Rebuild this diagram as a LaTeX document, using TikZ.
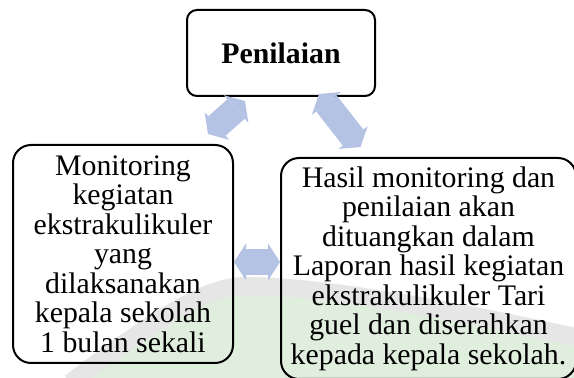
\documentclass[tikz,border=0pt]{standalone}
\usepackage{fontspec}
\setmainfont{Liberation Serif}
\usetikzlibrary{calc}
\usetikzlibrary{arrows.meta}

\definecolor{arrowblue}{RGB}{180,194,228}
\definecolor{markgray}{RGB}{230,230,230}
\definecolor{markgreen}{RGB}{224,238,222}

\begin{document}
\begin{tikzpicture}[x=1pt,y=1pt,
  box/.style={draw=black, line width=2pt, rounded corners=18pt, align=center, inner sep=0pt, font=\fontsize{29.8}{29.5}\selectfont},
  twoway/.style={arrowblue, line width=26pt, {Triangle[width=37pt,length=12pt,line width=0pt]}-{Triangle[width=37pt,length=12pt,line width=0pt]}}]
\clip (0,0) rectangle (574,378);
\fill[white] (0,0) rectangle (574,378);
\fill[markgreen] (70,-5) .. controls (150,55) and (205,92) .. (245,92) .. controls (330,92) and (480,62) .. (580,40) -- (580,-5) -- cycle;
\draw[markgray, line width=18pt] (70,-5) .. controls (150,55) and (205,92) .. (245,92) .. controls (330,92) and (480,62) .. (580,40);
\node[box, minimum width=188pt, minimum height=86pt, rounded corners=10pt] (nilai) at (281,325) {\textbf{Penilaian}};
\node[box, minimum width=220pt, minimum height=218pt] (monitor) at (123,124) {Monitoring\\kegiatan\\ekstrakulikuler\\yang\\dilaksanakan\\kepala sekolah\\1 bulan sekali};
\node[box, minimum width=295pt, minimum height=221pt] (hasil) at (428.5,109.5) {Hasil monitoring dan\\penilaian akan\\dituangkan dalam\\Laporan hasil kegiatan\\ekstrakulikuler Tari\\guel dan diserahkan\\kepada kepala sekolah.};
\draw[twoway] ($(monitor.north)+(85,10)$) -- ($(nilai.south)+(-36,-4)$);
\draw[twoway] ($(nilai.south)+(38,3)$) -- ($(hasil.north)+(-68,10)$);
\draw[twoway] ([yshift=-8pt]monitor.east) -- ([yshift=6.5pt]hasil.west);
\end{tikzpicture}
\end{document}
